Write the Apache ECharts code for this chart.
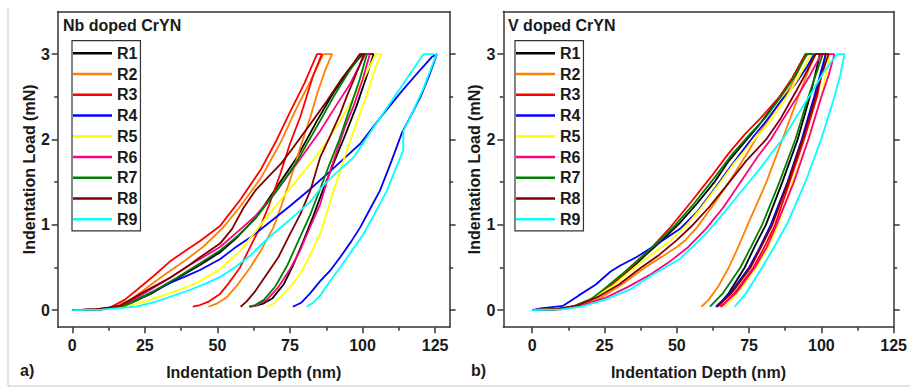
<!DOCTYPE html>
<html><head><meta charset="utf-8">
<script src="https://cdn.jsdelivr.net/npm/echarts@6/dist/echarts.min.js"></script>
<style>html,body{margin:0;padding:0;background:#fff;} #c{width:910px;height:387px;}</style>
</head><body><div id="c"></div>
<script>
const seriesNames = ['R1','R2','R3','R4','R5','R6','R7','R8','R9'];
const seriesColors = ['#000000','#FF8000','#FF0000','#0000FF','#FFFF00','#FF0080','#008000','#800000','#00FFFF'];
const xMajorTicks = [0,25,50,75,100,125];
const xMinorTicks = [12.5,37.5,62.5,87.5,112.5];
const yMajorTicks = [0,1,2,3];
const yMinorTicks = [0.5,1.5,2.5];
const panelTitles = ['Nb doped CrYN','V doped CrYN'];
const panelLetters = ['a)','b)'];
const xAxisName = 'Indentation Depth (nm)';
const yAxisName = 'Indentation Load (mN)';

// Panel a) Nb doped CrYN : [depth nm, load mN]
const nbR1 = [[0,0],[10,0.01],[18,0.05],[27,0.19],[36,0.37],[44,0.53],[51,0.68],[57,0.86],[63.6,1.1],[70,1.42],[77.4,1.79],[84,2.2],[90,2.55],[95,2.8],[100,3],[103.8,3],[101.5,2.75],[98,2.4],[94,2.05],[90,1.72],[86.5,1.42],[83,1.1],[79.5,0.8],[76,0.52],[72.8,0.3],[69,0.14],[66,0.08],[63,0.05],[61,0.04]];
const nbR2 = [[0,0],[8,0.01],[14,0.03],[20,0.12],[26,0.27],[32,0.42],[38,0.56],[45,0.74],[52,0.97],[58,1.22],[65,1.55],[72,1.98],[77,2.35],[82,2.68],[86.5,3],[89.5,3],[87,2.8],[84.5,2.55],[82,2.26],[78.5,1.9],[75,1.52],[72,1.22],[69.3,0.97],[65,0.7],[61.3,0.5],[57,0.3],[53.2,0.15],[50,0.08],[46.9,0.04]];
const nbR3 = [[0,0],[8,0.01],[13,0.03],[18,0.12],[22,0.23],[28,0.4],[34,0.58],[40,0.72],[44,0.81],[51,0.99],[58,1.3],[65,1.65],[70.5,2.0],[75,2.32],[80,2.66],[84.3,3],[86,3],[83,2.75],[78.5,2.26],[75,1.95],[71.6,1.59],[68,1.25],[64.7,0.97],[61,0.72],[57.8,0.5],[54,0.32],[50.9,0.19],[47,0.1],[44,0.06],[41.5,0.04]];
const nbR4 = [[0,0],[10,0.01],[18,0.06],[25,0.17],[33.7,0.32],[40,0.41],[44,0.47],[51,0.6],[56,0.73],[61.3,0.85],[68,1.03],[75,1.22],[82,1.42],[88.9,1.63],[95,1.82],[99.2,1.95],[106,2.25],[113.6,2.57],[120,2.82],[124,2.97],[125.6,3],[123,2.75],[120,2.5],[117,2.3],[113.6,2.08],[110,1.75],[106,1.4],[102.5,1.18],[99.2,0.97],[96,0.8],[92.3,0.62],[89,0.47],[85.4,0.34],[82,0.2],[79,0.09],[76,0.04]];
const nbR5 = [[0,0],[10,0.01],[18,0.04],[25,0.1],[33.7,0.2],[40,0.28],[44,0.34],[50.9,0.48],[58,0.7],[67,1.09],[72,1.3],[78,1.55],[84,1.8],[87.7,1.98],[92,2.2],[97,2.5],[101,2.75],[104.5,3],[106.5,3],[104.5,2.85],[101.5,2.53],[98,2.2],[94.6,1.87],[91,1.5],[88,1.18],[85.4,0.89],[82,0.65],[78.5,0.42],[75,0.27],[71.6,0.15],[69,0.07],[67,0.04]];
const nbR6 = [[0,0],[10,0.01],[17,0.05],[25,0.2],[33.7,0.38],[40,0.52],[44,0.6],[50.9,0.74],[57,0.92],[63,1.1],[70,1.38],[77,1.7],[85.4,2.1],[90,2.35],[95.7,2.65],[99,2.87],[101,3],[102.5,3],[100,2.7],[97,2.4],[94,2.15],[92.3,1.98],[89,1.65],[85.4,1.24],[82,0.98],[78.5,0.7],[75,0.48],[71,0.27],[67,0.12],[63,0.05],[61.5,0.04]];
const nbR7 = [[0,0],[10,0.01],[18,0.05],[27,0.2],[36,0.38],[44,0.55],[50.9,0.7],[57,0.87],[63,1.07],[70,1.38],[77,1.72],[85.4,2.22],[90,2.5],[95,2.78],[99.5,3],[101.5,3],[99,2.7],[96,2.4],[92,2.0],[88.5,1.7],[85.4,1.42],[82,1.12],[78,0.82],[74,0.52],[70,0.28],[66,0.12],[63,0.06],[61,0.04]];
const nbR8 = [[0,0],[8,0.01],[16.4,0.05],[25,0.22],[33.7,0.38],[40,0.52],[44,0.62],[50.9,0.78],[55,0.95],[59,1.2],[63,1.4],[68,1.58],[72,1.72],[76,1.9],[82,2.18],[87.7,2.45],[93,2.72],[97,2.9],[99,3],[100.5,3],[97,2.7],[94.5,2.5],[92.3,2.3],[89,2.05],[85.4,1.79],[82,1.4],[78.5,1.12],[75,0.89],[71,0.62],[67,0.42],[63,0.22],[60,0.1],[58,0.04]];
const nbR9 = [[0,0],[10,0.005],[22,0.04],[28,0.09],[34,0.16],[40,0.23],[46,0.31],[51,0.39],[56,0.5],[61.3,0.64],[68,0.86],[75,1.06],[82,1.27],[85.4,1.42],[90,1.58],[96.9,1.79],[103,2.1],[108,2.35],[113,2.6],[117,2.8],[121,3],[125.5,3],[121,2.6],[116.4,2.26],[114.1,2.1],[114,1.87],[111,1.62],[108.4,1.4],[104,1.12],[100.3,0.89],[96,0.68],[92.3,0.5],[89,0.35],[85.4,0.17],[83,0.09],[80.8,0.04]];

// Panel b) V doped CrYN : [depth nm, load mN]
const vR1 = [[0,0],[8,0.01],[14,0.04],[21,0.14],[27,0.28],[33,0.45],[39,0.64],[45,0.82],[51,1.02],[57,1.25],[63,1.5],[68,1.75],[73,1.95],[78,2.15],[84,2.42],[90,2.72],[94.5,3],[99.5,3],[97.8,2.75],[96,2.5],[91.8,2.0],[86.5,1.5],[80.8,1.0],[77,0.75],[73.5,0.5],[68,0.2],[64,0.04]];
const vR2 = [[0,0],[10,0.02],[16,0.05],[24,0.15],[31,0.3],[39,0.5],[45,0.63],[50,0.74],[53,0.82],[57,0.97],[63,1.25],[69,1.55],[74,1.82],[79,2.1],[84,2.35],[89,2.6],[92,2.8],[94,2.95],[95.5,3],[98,3],[96,2.85],[92,2.5],[86.5,2.0],[81,1.5],[74.5,1.0],[71.1,0.73],[68,0.5],[64.2,0.27],[61,0.12],[58.5,0.04]];
const vR3 = [[0,0],[8,0.01],[14,0.04],[22,0.15],[28,0.32],[34,0.5],[41,0.72],[48,0.98],[55,1.27],[62,1.57],[68,1.84],[73.5,2.06],[79,2.25],[85.5,2.5],[90,2.72],[93,2.9],[94.7,3],[101.5,3],[100,2.75],[98.5,2.5],[94,2.0],[89,1.5],[84,1.0],[80,0.72],[76.5,0.5],[70,0.2],[65.5,0.04]];
const vR4 = [[0,0],[3,0.02],[10.7,0.05],[16,0.17],[22,0.3],[27,0.45],[30.3,0.52],[36,0.62],[43,0.77],[51,0.95],[57,1.15],[63,1.42],[69,1.7],[75.7,2.0],[81,2.22],[86,2.45],[91,2.65],[95,2.85],[97.5,3],[101.5,3],[99.5,2.75],[97.5,2.5],[93.2,2.0],[88.3,1.5],[82.5,1.0],[78.5,0.72],[75,0.5],[68.5,0.2],[63.5,0.04]];
const vR5 = [[0,0],[10,0.02],[16,0.06],[22,0.16],[28,0.29],[35.4,0.5],[42,0.67],[48,0.82],[52.7,0.97],[58,1.18],[64,1.45],[70,1.73],[76.9,2.0],[82,2.2],[87,2.45],[92,2.72],[96.5,3],[103,3],[101.5,2.75],[100,2.5],[95.5,2.0],[90,1.5],[85,1.0],[81.5,0.73],[77.5,0.5],[71,0.2],[66.5,0.04]];
const vR6 = [[0,0],[10,0.01],[16,0.04],[25,0.14],[33,0.27],[41,0.42],[48,0.58],[54,0.74],[60,0.95],[66,1.2],[72,1.5],[78,1.8],[82.5,2.0],[87,2.25],[92,2.52],[96,2.75],[100,3],[104.5,3],[102.5,2.75],[100,2.5],[95.5,2.0],[90.5,1.5],[84.5,1.0],[81,0.73],[77,0.5],[70.5,0.2],[65,0.04]];
const vR7 = [[0,0],[8,0.01],[14,0.04],[20,0.12],[25,0.25],[31,0.42],[37,0.6],[43,0.78],[49.5,1.0],[56,1.25],[63,1.55],[69,1.82],[75,2.05],[80.5,2.25],[86,2.5],[91,2.75],[95,3],[100.5,3],[98,2.75],[95.5,2.5],[91,2.0],[85.5,1.5],[79.5,1.0],[75.5,0.73],[72,0.5],[66,0.2],[61.5,0.04]];
const vR8 = [[0,0],[10,0.02],[16,0.06],[23,0.16],[30,0.3],[37.7,0.5],[44,0.65],[50,0.82],[55,0.98],[61,1.2],[67,1.45],[74,1.75],[80.9,2.0],[86,2.25],[91,2.55],[95,2.8],[98,3],[102.5,3],[100,2.75],[98,2.5],[93.5,2.0],[88.5,1.5],[83,1.0],[79,0.73],[75.5,0.5],[69,0.2],[64,0.04]];
const vR9 = [[0,0],[10,0.01],[17,0.04],[25,0.12],[33.7,0.24],[42.3,0.43],[51,0.6],[56,0.76],[61,0.93],[67,1.17],[73,1.42],[78.6,1.65],[83,1.85],[87,2.02],[92,2.3],[97,2.57],[101,2.8],[105.5,3],[108,3],[106.5,2.75],[104.5,2.5],[101.6,2.18],[99.9,2.0],[94.7,1.52],[88,1.0],[83,0.7],[79.5,0.5],[74,0.2],[70,0.04]];

const nbData = [nbR1,nbR2,nbR3,nbR4,nbR5,nbR6,nbR7,nbR8,nbR9];
const vData = [vR1,vR2,vR3,vR4,vR5,vR6,vR7,vR8,vR9];

const FONT = '"Liberation Sans", Arial, sans-serif';
const TXT = '#1a1a1a';
const AX = '#333333';
const axLine = {show:true, onZero:false, lineStyle:{color:AX, width:1.5}};
const lblStyle = {fontFamily:FONT, fontSize:16, fontWeight:'bold', color:TXT};

function makeXAxes(g, min, max){
  return [
    {gridIndex:g, type:'value', min:min, max:max, position:'bottom',
     axisLine:axLine, splitLine:{show:false},
     axisTick:{show:true, inside:false, length:6, customValues:xMajorTicks, lineStyle:{color:AX,width:1.5}},
     axisLabel:Object.assign({customValues:xMajorTicks, margin:10}, lblStyle),
     name:xAxisName, nameLocation:'middle', nameGap:37, nameTextStyle:lblStyle},
    {gridIndex:g, type:'value', min:min, max:max, position:'bottom',
     axisLine:{show:false, onZero:false}, splitLine:{show:false},
     axisTick:{show:true, inside:false, length:3.5, customValues:xMinorTicks, lineStyle:{color:AX,width:1.5}},
     axisLabel:{show:false}},
    {gridIndex:g, type:'value', min:min, max:max, position:'top',
     axisLine:axLine, splitLine:{show:false}, axisTick:{show:false}, axisLabel:{show:false}}
  ];
}
function makeYAxes(g){
  const base = {gridIndex:g, type:'value', min:-0.2, max:3.5, splitLine:{show:false}};
  return [
    Object.assign({}, base, {position:'left', axisLine:axLine,
      axisTick:{show:true, inside:false, length:6, customValues:yMajorTicks, lineStyle:{color:AX,width:1.5}},
      axisLabel:Object.assign({customValues:yMajorTicks, margin:8}, lblStyle),
      name:yAxisName, nameLocation:'middle', nameGap:20, nameTextStyle:lblStyle}),
    Object.assign({}, base, {position:'left', axisLine:{show:false,onZero:false},
      axisTick:{show:true, inside:false, length:3.5, customValues:yMinorTicks, lineStyle:{color:AX,width:1.5}},
      axisLabel:{show:false}}),
    Object.assign({}, base, {position:'right', axisLine:axLine,
      axisTick:{show:true, inside:false, length:6, customValues:yMajorTicks, lineStyle:{color:AX,width:1.5}},
      axisLabel:{show:false}}),
    Object.assign({}, base, {position:'right', axisLine:{show:false,onZero:false},
      axisTick:{show:true, inside:false, length:3.5, customValues:yMinorTicks, lineStyle:{color:AX,width:1.5}},
      axisLabel:{show:false}})
  ];
}

const series = [];
[nbData, vData].forEach(function(set, p){
  set.forEach(function(d, i){
    series.push({type:'line', name:seriesNames[i], xAxisIndex:p*3, yAxisIndex:p*4,
      data:d, symbol:'none', smooth:false, color:seriesColors[i],
      lineStyle:{width:1.8, color:seriesColors[i]}, z:2+i});
  });
});

function makeLegend(left){
  return {orient:'vertical', left:left, top:40.7, data:seriesNames, selectedMode:false,
    icon:'rect', itemWidth:39, itemHeight:2.6, itemGap:4.75, padding:[4.6,3,3.6,1],
    borderColor:AX, borderWidth:1.2, backgroundColor:'#fff',
    textStyle:Object.assign({lineHeight:16}, lblStyle)};
}

const chart = echarts.init(document.getElementById('c'), null, {renderer:'svg'});
chart.setOption({
  animation:false,
  backgroundColor:'#ffffff',
  grid:[
    {left:57.8, top:11.5, width:391.8, height:315.7},
    {left:503.3, top:11.5, width:391, height:315.7}
  ],
  xAxis: makeXAxes(0,-5,130).concat(makeXAxes(1,-10,125)),
  yAxis: makeYAxes(0).concat(makeYAxes(1)),
  legend:[makeLegend(72), makeLegend(515)],
  title:[
    {text:panelTitles[0], left:63, top:17, padding:0, textStyle:Object.assign({lineHeight:16}, lblStyle)},
    {text:panelTitles[1], left:508, top:17, padding:0, textStyle:Object.assign({lineHeight:16}, lblStyle)}
  ],
  graphic:[
    {type:'text', left:20, top:362, style:{text:panelLetters[0], font:'bold 16px "Liberation Sans", Arial', fill:TXT}},
    {type:'text', left:471, top:362, style:{text:panelLetters[1], font:'bold 16px "Liberation Sans", Arial', fill:TXT}},
    {type:'line', shape:{x1:8,y1:8,x2:8,y2:386}, style:{stroke:'#c8c8c8', lineWidth:1}},
    {type:'line', shape:{x1:8,y1:386,x2:910,y2:386}, style:{stroke:'#c8c8c8', lineWidth:1}}
  ],
  series:series
});
</script></body></html>
